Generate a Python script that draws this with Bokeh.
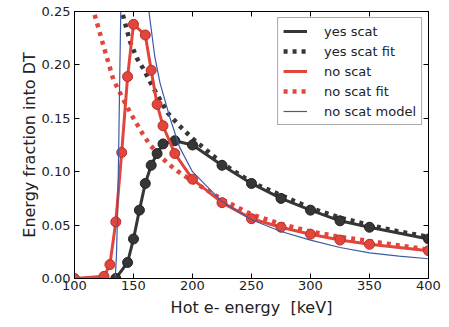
from bokeh.plotting import figure
from bokeh.models import (Range1d, LinearAxis, Legend, LegendItem, FixedTicker,
                          NumeralTickFormatter, CustomJSTickFormatter)
from bokeh.embed import file_html
from bokeh.resources import INLINE
import numpy as np

# ---- data ----
yes_x = [135, 145, 150, 155, 160, 165, 170, 175, 185, 200, 225, 250, 275, 300, 325, 350, 400]
yes_y = [0.0, 0.015, 0.037, 0.064, 0.089, 0.106, 0.117, 0.126, 0.129, 0.125, 0.106, 0.089,
         0.075, 0.064, 0.054, 0.048, 0.037]

yes_fit_x = [139, 147, 153, 158, 166, 179, 189, 200, 225, 250, 275, 300, 325, 350, 375, 400]
yes_fit_y = [0.255, 0.222, 0.206, 0.197, 0.180, 0.155, 0.143, 0.131, 0.108, 0.090, 0.078,
             0.066, 0.057, 0.050, 0.044, 0.039]

no_x = [100, 125, 130, 135, 140, 145, 150, 160, 165, 170, 175, 185, 200, 225, 250, 275, 300,
        325, 350, 400]
no_y = [0.0, 0.002, 0.013, 0.053, 0.118, 0.189, 0.238, 0.228, 0.195, 0.163, 0.143, 0.117,
        0.093, 0.071, 0.056, 0.048, 0.0415, 0.036, 0.032, 0.026]

no_fit_x = [115, 124, 133, 143, 150, 158, 164, 174, 181, 188, 203, 225, 250, 275, 300, 325,
            350, 375, 400]
no_fit_y = [0.255, 0.220, 0.186, 0.164, 0.150, 0.135, 0.125, 0.113, 0.106, 0.100, 0.089,
            0.074, 0.060, 0.051, 0.044, 0.039, 0.035, 0.031, 0.027]

model_x = [134.5, 135.5, 136.5, 137.5, 138.5, 139.3, np.nan, 162.5, 168, 172.5, 181, 189, 200,
           212.5, 225, 250, 275, 300, 325, 350, 375, 400]
model_y = [0.0, 0.02, 0.06, 0.125, 0.20, 0.255, np.nan, 0.255, 0.208, 0.183, 0.150, 0.123,
           0.100, 0.086, 0.072, 0.055, 0.044, 0.036, 0.029, 0.024, 0.021, 0.0185]

x_ticks = [100, 150, 200, 250, 300, 350, 400]
y_ticks = [0.0, 0.05, 0.10, 0.15, 0.20, 0.25]

DARK = "#363636"
RED = "#e2453c"
BLUE = "#3c5aa6"
FONT = "DejaVu Sans"

p = figure(width=441, height=322, output_backend="svg", toolbar_location=None,
           x_range=Range1d(100, 400), y_range=Range1d(0, 0.25),
           min_border_left=74, min_border_right=13, min_border_top=11, min_border_bottom=44)
p.grid.visible = False
p.outline_line_color = "black"
p.outline_line_width = 1
p.background_fill_color = "white"

for ax in p.xaxis:
    ax.ticker = FixedTicker(ticks=x_ticks)
for ax in p.yaxis:
    ax.ticker = FixedTicker(ticks=y_ticks)
    ax.formatter = NumeralTickFormatter(format="0.00")

for ax in list(p.xaxis) + list(p.yaxis):
    ax.major_tick_in = 5
    ax.major_tick_out = 0
    ax.minor_tick_line_color = None
    ax.major_label_text_font = FONT
    ax.major_label_text_font_size = "13px"
    ax.major_label_text_color = "#222222"
    ax.axis_label_text_font = FONT
    ax.axis_label_text_font_size = "16px"
    ax.axis_label_text_font_style = "normal"
    ax.axis_label_text_color = "#222222"
    ax.axis_line_color = "black"

p.xaxis.axis_label = "Hot e- energy \u00a0[keV]"
p.yaxis.axis_label = "Energy fraction into DT"
p.xaxis.major_label_standoff = 2
p.yaxis.major_label_standoff = 4
p.xaxis.axis_label_standoff = 5
p.yaxis.axis_label_standoff = 0

# top and right axes with inward ticks only
empty = CustomJSTickFormatter(code="return ''")
top = LinearAxis(ticker=FixedTicker(ticks=x_ticks), formatter=empty,
                 major_tick_in=5, major_tick_out=0, minor_tick_line_color=None,
                 major_label_standoff=0)
right = LinearAxis(ticker=FixedTicker(ticks=y_ticks), formatter=empty,
                   major_tick_in=5, major_tick_out=0, minor_tick_line_color=None,
                   major_label_standoff=0)
p.add_layout(top, "above")
p.add_layout(right, "right")

r_yfit = p.line(yes_fit_x, yes_fit_y, line_color=DARK, line_width=4.5, line_dash="4 5")
r_nfit = p.line(no_fit_x, no_fit_y, line_color=RED, line_width=4.5, line_dash="4 5")
r_yes = p.line(yes_x, yes_y, line_color=DARK, line_width=3)
p.scatter(yes_x, yes_y, size=10, fill_color=DARK, line_color="#222222")
r_no = p.line(no_x, no_y, line_color=RED, line_width=3)
p.scatter(no_x, no_y, size=10, fill_color=RED, line_color="#b83028")
r_model = p.line(model_x, model_y, line_color=BLUE, line_width=1.2)

legend = Legend(items=[
    LegendItem(label="yes scat", renderers=[r_yes]),
    LegendItem(label="yes scat fit", renderers=[r_yfit]),
    LegendItem(label="no scat", renderers=[r_no]),
    LegendItem(label="no scat fit", renderers=[r_nfit]),
    LegendItem(label="no scat model", renderers=[r_model]),
], location="top_right")
legend.label_text_font = FONT
legend.label_text_font_size = "13px"
legend.label_text_color = "#222222"
legend.label_height = 16
legend.glyph_height = 16
legend.glyph_width = 24
legend.spacing = 4
legend.padding = 5
legend.margin = 6
legend.label_standoff = 17
legend.border_line_color = "#555555"
legend.border_line_width = 1
legend.background_fill_alpha = 1.0
p.add_layout(legend, "center")

open("out.html", "w").write(file_html(p, INLINE))
